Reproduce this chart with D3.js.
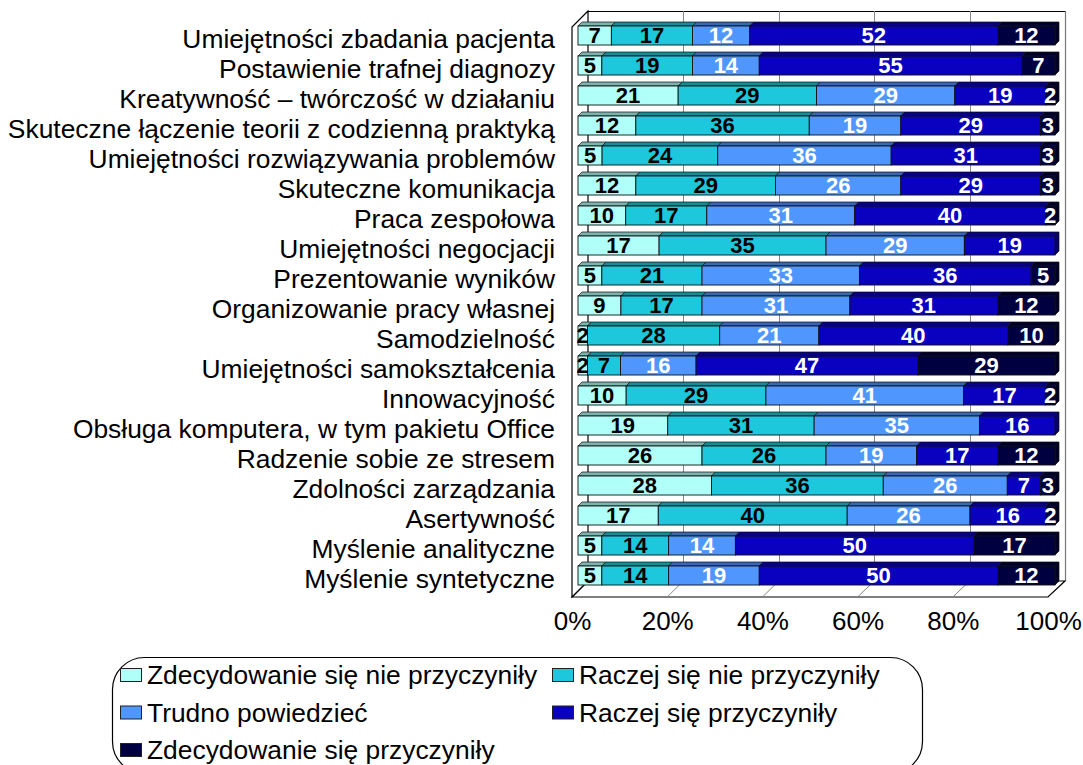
<!DOCTYPE html>
<html>
<head>
<meta charset="utf-8">
<script src="https://cdn.jsdelivr.net/npm/d3@7/dist/d3.min.js"></script>
<style>
  html, body { margin: 0; padding: 0; background: #fff; }
  svg { display: block; font-family: "Liberation Sans", Arial, sans-serif; }
</style>
</head>
<body>
<svg id="chart" width="1083" height="765"></svg>
<script>
// Categories (top to bottom)
const categories = [
  "Umiejętności zbadania pacjenta",
  "Postawienie trafnej diagnozy",
  "Kreatywność – twórczość w działaniu",
  "Skuteczne łączenie teorii z codzienną praktyką",
  "Umiejętności rozwiązywania problemów",
  "Skuteczne komunikacja",
  "Praca zespołowa",
  "Umiejętności negocjacji",
  "Prezentowanie wyników",
  "Organizowanie pracy własnej",
  "Samodzielność",
  "Umiejętności samokształcenia",
  "Innowacyjność",
  "Obsługa komputera, w tym pakietu Office",
  "Radzenie sobie ze stresem",
  "Zdolności zarządzania",
  "Asertywność",
  "Myślenie analityczne",
  "Myślenie syntetyczne"
];

// Series values (percent of answers)
const zdecydowanieNie = [7, 5, 21, 12, 5, 12, 10, 17, 5, 9, 2, 2, 10, 19, 26, 28, 17, 5, 5];
const raczejNie       = [17, 19, 29, 36, 24, 29, 17, 35, 21, 17, 28, 7, 29, 31, 26, 36, 40, 14, 14];
const trudno          = [12, 14, 29, 19, 36, 26, 31, 29, 33, 31, 21, 16, 41, 35, 19, 26, 26, 14, 19];
const raczejTak       = [52, 55, 19, 29, 31, 29, 40, 19, 36, 31, 40, 47, 17, 16, 17, 7, 16, 50, 50];
const zdecydowanieTak = [12, 7, 2, 3, 3, 3, 2, 0, 5, 12, 10, 29, 2, 0, 12, 3, 2, 17, 12];

const seriesNames = [
  "Zdecydowanie się nie przyczyniły",
  "Raczej się nie przyczyniły",
  "Trudno powiedzieć",
  "Raczej się przyczyniły",
  "Zdecydowanie się przyczyniły"
];
const seriesColors = ["#B0FFF8", "#1EC8DC", "#4F96FF", "#0A00C0", "#000040"];
const labelColors = ["#000", "#000", "#fff", "#fff", "#fff"];

const tickLabels = ["0%", "20%", "40%", "60%", "80%", "100%"];
const tickValues = [0, 0.2, 0.4, 0.6, 0.8, 1];

// Table built from the series arrays
const keys = ["s0", "s1", "s2", "s3", "s4"];
const allSeries = [zdecydowanieNie, raczejNie, trudno, raczejTak, zdecydowanieTak];
const table = categories.map((c, i) => {
  const row = { cat: c };
  keys.forEach((k, j) => row[k] = allSeries[j][i]);
  return row;
});

const stacked = d3.stack().keys(keys).offset(d3.stackOffsetExpand)(table);

const svg = d3.select("#chart");

// Layout of the 3D plot box
const DEPTH = 16;          // depth of the plot box (front plane -> back wall)
const BAR_OFF = 6;         // bars sit slightly behind the front plane
const BAR_D = 4;           // thickness of the bar's own 3D faces
const frontLeft = 572, frontRight = 1048;
const floorY = 597, topY = 27;

const xFront = d3.scaleLinear().domain([0, 1]).range([frontLeft, frontRight]);
const xBack = d3.scaleLinear().domain([0, 1]).range([frontLeft + DEPTH, frontRight + DEPTH + 1]);
const xBar = d3.scaleLinear().domain([0, 1]).range([frontLeft + BAR_OFF, frontRight + BAR_OFF + 1]);

const y = d3.scaleBand().domain(categories).range([20.5, 590.5]).paddingInner(0.366).paddingOuter(0.183);

// Back wall
const g = svg.append("g");
g.append("rect")
  .attr("x", xBack(0)).attr("y", topY - DEPTH)
  .attr("width", xBack(1) - xBack(0)).attr("height", floorY - topY)
  .attr("fill", "#fff").attr("stroke", "none");
g.append("line")
  .attr("x1", xBack(0)).attr("x2", xBack(1))
  .attr("y1", topY - DEPTH + 0.5).attr("y2", topY - DEPTH + 0.5)
  .attr("stroke", "#000").attr("stroke-width", 1.2);
g.append("line")
  .attr("x1", xBack(1) + 0.5).attr("x2", xBack(1) + 0.5)
  .attr("y1", topY - DEPTH).attr("y2", floorY - DEPTH)
  .attr("stroke", "#777").attr("stroke-width", 1.2);

// Gridlines on the back wall
g.selectAll("line.grid").data(tickValues.slice(1, -1)).join("line")
  .attr("class", "grid")
  .attr("x1", d => Math.round(xBack(d)) + 0.5).attr("x2", d => Math.round(xBack(d)) + 0.5)
  .attr("y1", topY - DEPTH).attr("y2", floorY - DEPTH)
  .attr("stroke", "#888").attr("stroke-width", 1);

// Floor
g.append("path")
  .attr("d", `M${frontLeft},${floorY} L${frontLeft + DEPTH},${floorY - DEPTH} L${xBack(1)},${floorY - DEPTH} L${frontRight},${floorY} Z`)
  .attr("fill", "#fff").attr("stroke", "#000").attr("stroke-width", 1.2);
g.selectAll("line.floorgrid").data(tickValues.slice(1, -1)).join("line")
  .attr("class", "floorgrid")
  .attr("x1", d => xFront(d)).attr("y1", floorY)
  .attr("x2", d => xBack(d)).attr("y2", floorY - DEPTH)
  .attr("stroke", "#888").attr("stroke-width", 1);

// Left side wall
g.append("path")
  .attr("d", `M${frontLeft},${floorY} L${frontLeft},${topY} L${frontLeft + DEPTH},${topY - DEPTH} L${frontLeft + DEPTH},${floorY - DEPTH} Z`)
  .attr("fill", "#fff").attr("stroke", "#000").attr("stroke-width", 1.2);

// Bars
const bh = y.bandwidth();
const barsG = svg.append("g");
stacked.forEach((layer, si) => {
  const col = d3.color(seriesColors[si]);
  const topCol = col.darker(1).formatHex();
  const sideCol = col.darker(1.6).formatHex();
  const lg = barsG.append("g");
  layer.forEach((seg, ri) => {
    const v = allSeries[si][ri];
    if (v <= 0) return;
    const x0 = xBar(seg[0]), x1 = xBar(seg[1]);
    const yt = y(categories[ri]);
    // top face
    lg.append("path")
      .attr("d", `M${x0},${yt} L${x0 + BAR_D},${yt - BAR_D} L${x1 + BAR_D},${yt - BAR_D} L${x1},${yt} Z`)
      .attr("fill", topCol).attr("stroke", "#111").attr("stroke-width", 0.7);
    // right side face on the bar end
    if (seg[1] > 0.999) {
      lg.append("path")
        .attr("d", `M${x1},${yt} L${x1 + BAR_D},${yt - BAR_D} L${x1 + BAR_D},${yt + bh - BAR_D} L${x1},${yt + bh} Z`)
        .attr("fill", sideCol).attr("stroke", "#111").attr("stroke-width", 0.7);
    }
    // front face
    lg.append("rect")
      .attr("x", x0).attr("y", yt)
      .attr("width", x1 - x0).attr("height", bh)
      .attr("fill", seriesColors[si]).attr("stroke", "#111").attr("stroke-width", 0.9);
  });
});

// Value labels
const lblG = svg.append("g");
stacked.forEach((layer, si) => {
  layer.forEach((seg, ri) => {
    const v = allSeries[si][ri];
    if (v <= 0) return;
    lblG.append("text")
      .attr("x", (xBar(seg[0]) + xBar(seg[1])) / 2)
      .attr("y", y(categories[ri]) + bh / 2 + 7.5)
      .attr("text-anchor", "middle")
      .attr("font-size", 22).attr("font-weight", "bold")
      .attr("fill", labelColors[si])
      .text(v);
  });
});

// Category labels
svg.append("g").selectAll("text").data(categories).join("text")
  .attr("x", 555)
  .attr("y", d => y(d) + bh / 2 + 12.5)
  .attr("text-anchor", "end")
  .attr("font-size", 26.4)
  .attr("fill", "#000")
  .text(d => d);

// X axis (percent ticks on the front plane)
const axis = d3.axisBottom(xFront)
  .tickValues(tickValues)
  .tickFormat((d, i) => tickLabels[i])
  .tickSize(0).tickPadding(0);
const axG = svg.append("g").attr("transform", `translate(0,${floorY + 15})`).call(axis);
axG.select(".domain").remove();
axG.selectAll("text")
  .attr("font-family", "Liberation Sans, Arial, sans-serif")
  .attr("font-size", 26).attr("fill", "#000")
  .attr("dy", "0.71em");

// Legend
const lg = svg.append("g");
lg.append("rect")
  .attr("x", 112.5).attr("y", 657.5).attr("width", 810).attr("height", 116).attr("rx", 32).attr("ry", 32)
  .attr("fill", "#fff").attr("stroke", "#000").attr("stroke-width", 1.2);
const legendPos = [
  { x: 120, y: 675 },
  { x: 552, y: 675 },
  { x: 120, y: 712.5 },
  { x: 552, y: 712.5 },
  { x: 120, y: 750 }
];
seriesNames.forEach((name, i) => {
  const p = legendPos[i];
  lg.append("rect")
    .attr("x", p.x + 0.5).attr("y", p.y - 6.5).attr("width", 21).attr("height", 13)
    .attr("fill", seriesColors[i]).attr("stroke", "#222").attr("stroke-width", 1);
  lg.append("text")
    .attr("x", p.x + 27).attr("y", p.y + 9)
    .attr("font-size", 26.4).attr("fill", "#000")
    .text(name);
});
</script>
</body>
</html>
